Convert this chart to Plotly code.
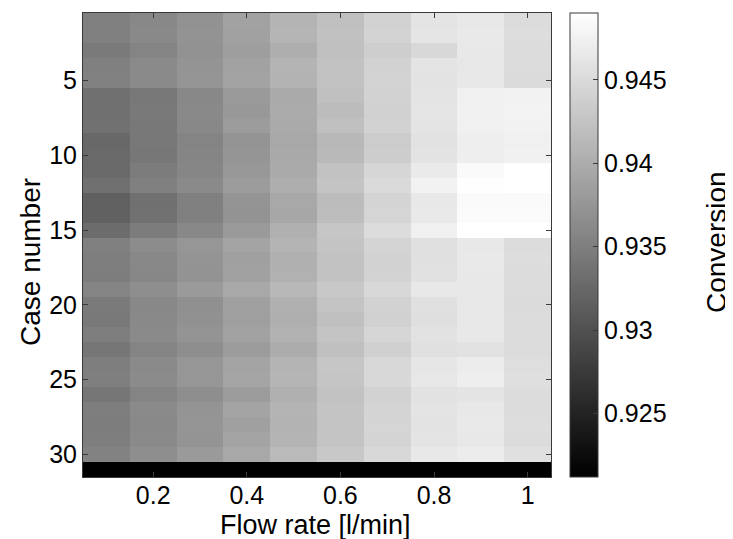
import plotly.graph_objects as go

# Flow rates [l/min] (columns) and case numbers (rows)
flow_rates = [0.1, 0.2, 0.3, 0.4, 0.5, 0.6, 0.7, 0.8, 0.9, 1.0]
case_numbers = list(range(1, 32))

# Conversion per flow rate, one value per case (1..31)
conv_q01 = [0.9352, 0.9351, 0.9345, 0.9352, 0.9353, 0.9334, 0.9334, 0.9335, 0.9325, 0.9326,
            0.9328, 0.9334, 0.9317, 0.9318, 0.9330, 0.9352, 0.9349, 0.9348, 0.9356, 0.9345,
            0.9344, 0.9349, 0.9341, 0.9349, 0.9350, 0.9341, 0.9349, 0.9348, 0.9349, 0.9354, 0.9212]
conv_q02 = [0.9360, 0.9361, 0.9356, 0.9362, 0.9362, 0.9343, 0.9344, 0.9343, 0.9343, 0.9342,
            0.9347, 0.9352, 0.9334, 0.9335, 0.9347, 0.9365, 0.9360, 0.9359, 0.9367, 0.9360,
            0.9361, 0.9362, 0.9356, 0.9362, 0.9363, 0.9356, 0.9362, 0.9361, 0.9362, 0.9367, 0.9212]
conv_q03 = [0.9371, 0.9372, 0.9371, 0.9373, 0.9374, 0.9360, 0.9361, 0.9360, 0.9356, 0.9357,
            0.9358, 0.9362, 0.9352, 0.9351, 0.9360, 0.9376, 0.9373, 0.9372, 0.9380, 0.9369,
            0.9370, 0.9373, 0.9367, 0.9376, 0.9375, 0.9367, 0.9373, 0.9374, 0.9373, 0.9380, 0.9212]
conv_q04 = [0.9389, 0.9388, 0.9384, 0.9389, 0.9390, 0.9380, 0.9378, 0.9382, 0.9373, 0.9374,
            0.9378, 0.9382, 0.9373, 0.9372, 0.9380, 0.9391, 0.9386, 0.9387, 0.9395, 0.9386,
            0.9385, 0.9389, 0.9382, 0.9391, 0.9392, 0.9382, 0.9391, 0.9386, 0.9391, 0.9395, 0.9212]
conv_q05 = [0.9408, 0.9409, 0.9402, 0.9408, 0.9407, 0.9397, 0.9398, 0.9397, 0.9395, 0.9396,
            0.9397, 0.9402, 0.9395, 0.9394, 0.9404, 0.9408, 0.9404, 0.9405, 0.9413, 0.9404,
            0.9403, 0.9406, 0.9400, 0.9408, 0.9409, 0.9404, 0.9408, 0.9407, 0.9408, 0.9415, 0.9212]
conv_q06 = [0.9421, 0.9422, 0.9421, 0.9423, 0.9424, 0.9421, 0.9417, 0.9421, 0.9413, 0.9414,
            0.9423, 0.9426, 0.9417, 0.9418, 0.9428, 0.9426, 0.9423, 0.9424, 0.9430, 0.9426,
            0.9421, 0.9426, 0.9421, 0.9428, 0.9427, 0.9423, 0.9426, 0.9425, 0.9426, 0.9430, 0.9212]
conv_q07 = [0.9441, 0.9442, 0.9437, 0.9441, 0.9442, 0.9441, 0.9440, 0.9441, 0.9434, 0.9435,
            0.9445, 0.9450, 0.9443, 0.9444, 0.9452, 0.9443, 0.9441, 0.9442, 0.9447, 0.9441,
            0.9440, 0.9445, 0.9439, 0.9447, 0.9448, 0.9441, 0.9443, 0.9444, 0.9443, 0.9447, 0.9212]
conv_q08 = [0.9461, 0.9462, 0.9447, 0.9461, 0.9460, 0.9461, 0.9462, 0.9461, 0.9458, 0.9459,
            0.9467, 0.9476, 0.9465, 0.9466, 0.9474, 0.9456, 0.9456, 0.9457, 0.9465, 0.9456,
            0.9455, 0.9458, 0.9456, 0.9463, 0.9464, 0.9458, 0.9461, 0.9460, 0.9461, 0.9465, 0.9212]
conv_q09 = [0.9465, 0.9466, 0.9465, 0.9464, 0.9465, 0.9474, 0.9475, 0.9474, 0.9471, 0.9472,
            0.9485, 0.9489, 0.9485, 0.9486, 0.9490, 0.9465, 0.9466, 0.9465, 0.9465, 0.9464,
            0.9465, 0.9465, 0.9458, 0.9469, 0.9471, 0.9461, 0.9465, 0.9466, 0.9465, 0.9469, 0.9212]
conv_q10 = [0.9452, 0.9453, 0.9452, 0.9452, 0.9451, 0.9476, 0.9477, 0.9476, 0.9474, 0.9475,
            0.9490, 0.9490, 0.9485, 0.9486, 0.9490, 0.9452, 0.9453, 0.9452, 0.9452, 0.9451,
            0.9452, 0.9452, 0.9452, 0.9454, 0.9455, 0.9452, 0.9452, 0.9453, 0.9452, 0.9456, 0.9212]

x_tick_vals = [0.2, 0.4, 0.6, 0.8, 1.0]
x_tick_text = ["0.2", "0.4", "0.6", "0.8", "1"]
y_tick_vals = [5, 10, 15, 20, 25, 30]
cb_tick_vals = [0.925, 0.93, 0.935, 0.94, 0.945]
cb_tick_text = ["0.925", "0.93", "0.935", "0.94", "0.945"]

columns = [conv_q01, conv_q02, conv_q03, conv_q04, conv_q05,
           conv_q06, conv_q07, conv_q08, conv_q09, conv_q10]
z = [list(row) for row in zip(*columns)]

FONT = "Liberation Sans, Arial, sans-serif"
LINE = "#3a3a3a"
TICK_SIZE = 25
TITLE_SIZE = 27

# page body has an 8px margin; figure is sized so it fits the 733x539 window
W, H = 725, 531
ML, MR, MT, MB = 75, 182, 5, 62
PW = W - ML - MR          # plot width in px (468)
PH = H - MT - MB          # plot height in px (464)
OX, OY = 8 + ML, 8 + MT   # plot top-left in window px


def px_x(x):
    return (x - OX) / PW


def px_y(y):
    return 1 - (y - OY) / PH


fig = go.Figure(go.Heatmap(
    x=flow_rates, y=case_numbers, z=z,
    zmin=0.9212, zmax=0.9490,
    colorscale=[[0, "black"], [1, "white"]],
    colorbar=dict(
        x=px_x(570), xanchor="left", xpad=0, ypad=0,
        y=0.5, yanchor="middle", len=1, lenmode="fraction",
        thickness=28, thicknessmode="pixels",
        outlinecolor=LINE, outlinewidth=1,
        tickvals=cb_tick_vals, ticktext=cb_tick_text,
        ticks="inside", ticklen=5, tickcolor=LINE,
        tickfont=dict(family=FONT, size=TICK_SIZE, color="black"),
    ),
))

fig.update_xaxes(
    range=[0.05, 1.05], tickvals=x_tick_vals, ticktext=x_tick_text,
    ticks="inside", ticklen=5, tickcolor=LINE, ticklabelstandoff=-4,
    showline=True, linecolor=LINE, linewidth=1, mirror="ticks",
    showgrid=False, zeroline=False,
    tickfont=dict(family=FONT, size=TICK_SIZE, color="black"),
)
fig.update_yaxes(
    range=[31.5, 0.5], tickvals=y_tick_vals,
    ticks="inside", ticklen=5, tickcolor=LINE,
    showline=True, linecolor=LINE, linewidth=1, mirror="ticks",
    showgrid=False, zeroline=False,
    tickfont=dict(family=FONT, size=TICK_SIZE, color="black"),
)

title_font = dict(family=FONT, size=TITLE_SIZE, color="black")
fig.add_annotation(
    text="Flow rate [l/min]", xref="paper", yref="paper",
    x=px_x(315), y=px_y(525), xanchor="center", yanchor="middle",
    showarrow=False, font=title_font,
)
fig.add_annotation(
    text="Case number", xref="paper", yref="paper",
    x=px_x(30), y=px_y(262), xanchor="center", yanchor="middle",
    textangle=-90, showarrow=False, font=dict(family=FONT, size=28, color="black"),
)
fig.add_annotation(
    text="Conversion", xref="paper", yref="paper",
    x=px_x(716), y=px_y(242), xanchor="center", yanchor="middle",
    textangle=-90, showarrow=False, font=dict(family=FONT, size=28, color="black"),
)

fig.update_layout(
    width=W, height=H,
    margin=dict(l=ML, r=MR, t=MT, b=MB),
    paper_bgcolor="white", plot_bgcolor="white",
)

fig.write_html("out.html")
